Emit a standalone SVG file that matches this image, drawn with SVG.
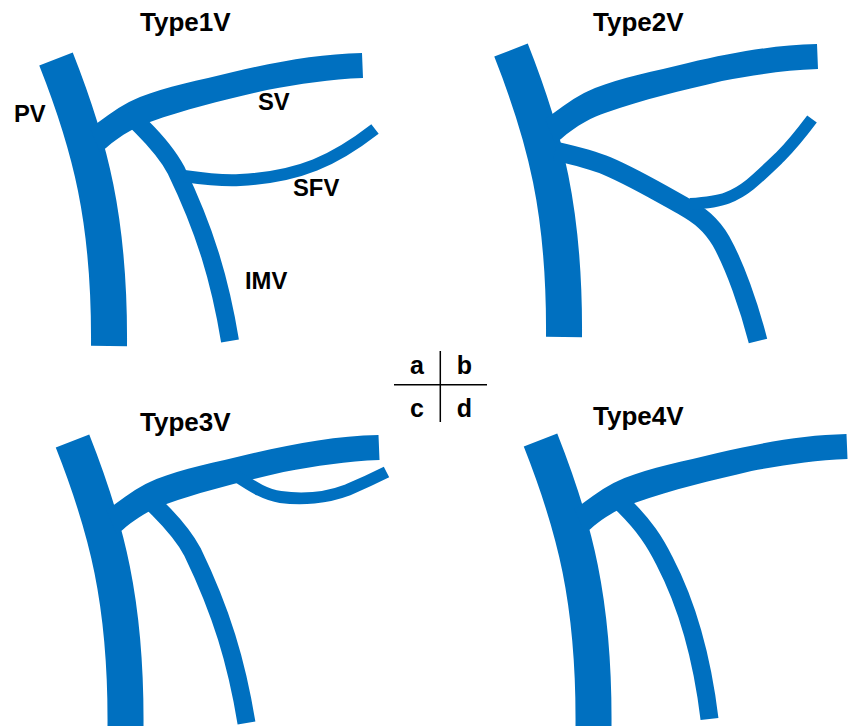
<svg xmlns="http://www.w3.org/2000/svg" width="849" height="726" viewBox="0 0 849 726">
  <style>
    .vein { fill: none; stroke: #0070c0; stroke-linecap: butt; stroke-linejoin: round; }
    .pv { stroke-width: 36; }
    .imv { stroke-width: 18; }
    .sfv { stroke-width: 12; }
    .sv { fill: #0070c0; stroke: none; }
    text { font-family: "Liberation Sans", Arial, sans-serif; font-weight: bold; fill: #000; }
    .title { font-size: 26px; }
    .label { font-size: 23.800px; }
    .panel { font-size: 25px; text-anchor: middle; }
    .axis { stroke: #000; stroke-width: 1.500; fill: none; }
  </style>
  <defs>
    <!-- Trunk and splenic branch shared by all four variants -->
    <path id="trunk" class="vein pv" d="M56,59 C90,145 110,220 109,346"/>
    <path id="splenic" class="sv" d="M90,128 L98,122.500 C112,112 125,103 140,97 C165,87 200,80 233,72 C280,61 320,54 362,53 L363,78 C330,79 300,84 267,90 C225,100 190,108 150,122 C140,125 120,135 106,148 L100,152 Z"/>
    <path id="imv-long" class="vein imv" d="M128,113 L142,127 C158,143 168,155 176,170 C205,230 220,280 230,341"/>
  </defs>

  <g id="connectors">
    <g id="type1-veins">
      <use href="#trunk"/>
      <use href="#splenic"/>
      <use href="#imv-long"/>
      <path class="vein sfv" d="M184,176 C205,179 225,181 240,180 C300,177 335,160 375,129"/>
    </g>
    <g id="type2-veins" transform="translate(455,-9)">
      <use href="#trunk"/>
      <use href="#splenic"/>
      <path class="vein imv" style="stroke-width:19" d="M100,160 C122,165 138,169 152,175 C180,187 205,202 230,216 C244,224 256,233 266,250 C280,275 294,315 303,350"/>
      <path class="vein sfv" d="M235,213 C250,212 262,211 272,207 C290,200 300,190 325,166 C338,153 348,140 357,128"/>
    </g>
    <g id="type3-veins" transform="translate(16.500,382)">
      <use href="#trunk"/>
      <use href="#splenic"/>
      <use href="#imv-long"/>
      <path class="vein sfv" d="M220,94 C238,106 250,113 264,115 C285,118 310,116 331,108 C345,102 358,96 370,90"/>
    </g>
    <g id="type4-veins" transform="translate(484.500,381)">
      <use href="#trunk"/>
      <use href="#splenic"/>
      <path class="vein imv" d="M128,113 L140,125 C160,145 170,160 180,180 C205,228 218,280 225,338"/>
    </g>
  </g>

  <g id="type1">
    <text class="title" x="140" y="31">Type1V</text>
    <text class="label" x="14" y="122">PV</text>
    <text class="label" x="258" y="110">SV</text>
    <text class="label" x="293" y="196">SFV</text>
    <text class="label" x="245" y="289">IMV</text>
  </g>
  <g id="type2"><text class="title" x="593" y="31">Type2V</text></g>
  <g id="type3"><text class="title" x="140" y="431">Type3V</text></g>
  <g id="type4"><text class="title" x="593" y="425">Type4V</text></g>

  <g id="panel-key">
    <path class="axis" d="M394,384.700 H487 M440.300,351 V422"/>
    <text class="panel" x="417" y="374">a</text>
    <text class="panel" x="464.500" y="374">b</text>
    <text class="panel" x="417" y="417">c</text>
    <text class="panel" x="464.500" y="417">d</text>
  </g>
</svg>
